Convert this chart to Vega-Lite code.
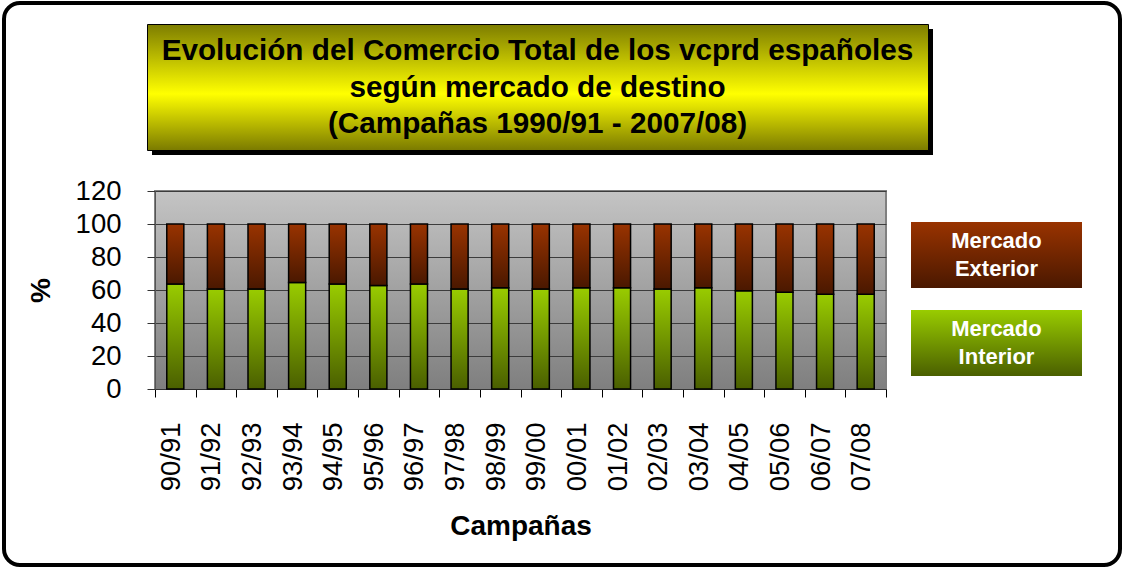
{
  "$schema": "https://vega.github.io/schema/vega-lite/v6.json",
  "background": "white",
  "padding": {"left": 2, "top": 1, "right": 0, "bottom": 0},
  "config": {
    "font": "Liberation Sans",
    "view": {"stroke": null}
  },
  "bounds": "flush",
  "spacing": 21,
  "vconcat": [
    {
      "vconcat": [
        {
          "width": 1116,
          "height": 562,
          "view": {"fill": "white", "stroke": "black", "strokeWidth": 4, "cornerRadius": 16},
          "data": {"values": [{}]},
          "mark": {"type": "text"},
          "encoding": {"text": {"value": ""}}
        }
      ]
    },
    {
      "columns": 2,
      "bounds": "flush",
      "align": "each",
      "spacing": {"row": 41, "column": 25},
      "concat": [
        {
          "bounds": "flush",
          "spacing": 142,
          "hconcat": [
            {
              "width": 1, "height": 1,
              "data": {"values": [{}]},
              "mark": {"type": "text"},
              "encoding": {"text": {"value": ""}}
            },
            {
              "bounds": "flush",
              "spacing": 0,
              "vconcat": [
                {
                  "bounds": "flush",
                  "spacing": 4,
                  "vconcat": [
                    {
                      "width": 1, "height": 1,
                      "data": {"values": [{}]},
                      "mark": {"type": "text"},
                      "encoding": {"text": {"value": ""}}
                    },
                    {
                      "bounds": "flush",
                      "spacing": 4,
                      "hconcat": [
                        {
                          "width": 1, "height": 1,
                          "data": {"values": [{}]},
                          "mark": {"type": "text"},
                          "encoding": {"text": {"value": ""}}
                        },
                        {
                          "width": 781, "height": 126,
                          "view": {"fill": "black", "stroke": null},
                          "data": {"values": [{}]},
                          "mark": {"type": "text"},
                          "encoding": {"text": {"value": ""}}
                        }
                      ]
                    }
                  ]
                },
                {
                  "width": 781, "height": 126,
                  "view": {
                    "fill": {"gradient": "linear", "x1": 0, "y1": 0, "x2": 0, "y2": 1,
                      "stops": [{"offset": 0, "color": "#7d7d00"}, {"offset": 0.55, "color": "#ffff00"}, {"offset": 1, "color": "#7a7a00"}]},
                    "stroke": "black", "strokeWidth": 1
                  },
                  "data": {"values": [{}]},
                  "mark": {"type": "text", "fontSize": 29.7, "fontWeight": "bold", "color": "black", "lineHeight": 36.5, "align": "center", "baseline": "middle", "dy": -36},
                  "encoding": {"text": {"value": ["Evolución del Comercio Total de los vcprd españoles", "según mercado de destino", "(Campañas 1990/91 - 2007/08)"]}}
                }
              ]
            }
          ]
        },
        {
          "width": 1, "height": 126,
          "data": {"values": [{}]},
          "mark": {"type": "text"},
          "encoding": {"text": {"value": ""}}
        },
        {
          "width": 126, "height": 1,
          "data": {"values": [{}]},
          "mark": {"type": "text"},
          "encoding": {"text": {"value": ""}}
        },
        {
          "bounds": "flush",
          "spacing": 25,
          "hconcat": [
            {
              "width": 731, "height": 198,
              "view": {
                "fill": {"gradient": "linear", "x1": 0, "y1": 0, "x2": 0, "y2": 1,
                  "stops": [{"offset": 0, "color": "#c4c4c4"}, {"offset": 1, "color": "#7f7f7f"}]},
                "stroke": "#808080", "strokeWidth": 2
              },
              "data": {"values": [
                {"campana": "90/91", "Mercado Interior": 63.6, "Mercado Exterior": 36.4},
                {"campana": "91/92", "Mercado Interior": 60.6, "Mercado Exterior": 39.4},
                {"campana": "92/93", "Mercado Interior": 60.6, "Mercado Exterior": 39.4},
                {"campana": "93/94", "Mercado Interior": 64.6, "Mercado Exterior": 35.4},
                {"campana": "94/95", "Mercado Interior": 63.6, "Mercado Exterior": 36.4},
                {"campana": "95/96", "Mercado Interior": 62.8, "Mercado Exterior": 37.2},
                {"campana": "96/97", "Mercado Interior": 63.6, "Mercado Exterior": 36.4},
                {"campana": "97/98", "Mercado Interior": 60.6, "Mercado Exterior": 39.4},
                {"campana": "98/99", "Mercado Interior": 61.4, "Mercado Exterior": 38.6},
                {"campana": "99/00", "Mercado Interior": 60.6, "Mercado Exterior": 39.4},
                {"campana": "00/01", "Mercado Interior": 61.4, "Mercado Exterior": 38.6},
                {"campana": "01/02", "Mercado Interior": 61.4, "Mercado Exterior": 38.6},
                {"campana": "02/03", "Mercado Interior": 60.6, "Mercado Exterior": 39.4},
                {"campana": "03/04", "Mercado Interior": 61.4, "Mercado Exterior": 38.6},
                {"campana": "04/05", "Mercado Interior": 59.6, "Mercado Exterior": 40.4},
                {"campana": "05/06", "Mercado Interior": 58.6, "Mercado Exterior": 41.4},
                {"campana": "06/07", "Mercado Interior": 57.5, "Mercado Exterior": 42.5},
                {"campana": "07/08", "Mercado Interior": 57.5, "Mercado Exterior": 42.5}
              ]},
              "transform": [
                {"fold": ["Mercado Interior", "Mercado Exterior"], "as": ["mercado", "valor"]},
                {"stack": "valor", "groupby": ["campana"], "sort": [{"field": "mercado", "order": "descending"}], "as": ["y0", "y1"]}
              ],
              "encoding": {
                "x": {
                  "field": "campana", "type": "ordinal", "sort": null,
                  "scale": {"paddingInner": 0, "paddingOuter": 0},
                  "axis": {
                    "title": "Campañas", "titleFontSize": 28, "titleFontWeight": "bold", "titleColor": "black", "titlePadding": 22,
                    "labelAngle": -90, "labelFontSize": 27.5, "labelColor": "black", "labelPadding": 25, "labelOverlap": false,
                    "tickBand": "extent", "labelOffset": -4,
                    "tickSize": 8, "tickColor": "black", "domainColor": "#333333", "grid": false
                  }
                },
                "y": {
                  "field": "y0", "type": "quantitative",
                  "scale": {"domain": [0, 120], "nice": false},
                  "axis": {
                    "title": "%", "titleFontSize": 28, "titleFontWeight": "bold", "titleColor": "black", "titlePadding": 20,
                    "values": [0, 20, 40, 60, 80, 100, 120], "tickCount": 7,
                    "labelFontSize": 27.5, "labelColor": "black", "labelPadding": 26, "labelOverlap": false,
                    "tickSize": 8, "tickColor": "#333333", "domainColor": "#555555",
                    "grid": true, "gridColor": "#3c3c3c", "gridWidth": 1
                  }
                },
                "y2": {"field": "y1"}
              },
              "layer": [
                {
                  "transform": [{"filter": "datum.mercado === 'Mercado Interior'"}],
                  "mark": {"type": "bar", "stroke": "black", "strokeWidth": 1.5, "width": {"band": 0.42},
                    "fill": {"gradient": "linear", "x1": 0, "y1": 0, "x2": 0, "y2": 1,
                      "stops": [{"offset": 0, "color": "#99cc00"}, {"offset": 1, "color": "#4a5f00"}]}}
                },
                {
                  "transform": [{"filter": "datum.mercado === 'Mercado Exterior'"}],
                  "mark": {"type": "bar", "stroke": "black", "strokeWidth": 1.5, "width": {"band": 0.42},
                    "fill": {"gradient": "linear", "x1": 0, "y1": 0, "x2": 0, "y2": 1,
                      "stops": [{"offset": 0, "color": "#993300"}, {"offset": 1, "color": "#4a1800"}]}}
                }
              ]
            },
            {
              "width": 171, "height": 198,
              "data": {"values": [{"mercado": "Mercado Exterior"}, {"mercado": "Mercado Interior"}]},
              "encoding": {
                "y": {
                  "field": "mercado", "type": "nominal", "sort": ["Mercado Exterior", "Mercado Interior"], "axis": null,
                  "scale": {"paddingInner": 0.25, "paddingOuter": 0.25, "align": 0.705}
                }
              },
              "layer": [
                {
                  "transform": [{"filter": "datum.mercado === 'Mercado Exterior'"}],
                  "mark": {"type": "bar",
                    "fill": {"gradient": "linear", "x1": 0, "y1": 0, "x2": 0, "y2": 1,
                      "stops": [{"offset": 0, "color": "#993300"}, {"offset": 1, "color": "#4a1800"}]}}
                },
                {
                  "transform": [{"filter": "datum.mercado === 'Mercado Interior'"}],
                  "mark": {"type": "bar",
                    "fill": {"gradient": "linear", "x1": 0, "y1": 0, "x2": 0, "y2": 1,
                      "stops": [{"offset": 0, "color": "#99cc00"}, {"offset": 1, "color": "#4a5f00"}]}}
                },
                {
                  "mark": {"type": "text", "color": "white", "fontWeight": "bold", "fontSize": 22, "lineBreak": " ", "lineHeight": 28, "dy": -14},
                  "encoding": {"text": {"field": "mercado"}}
                }
              ]
            }
          ]
        }
      ]
    }
  ]
}
